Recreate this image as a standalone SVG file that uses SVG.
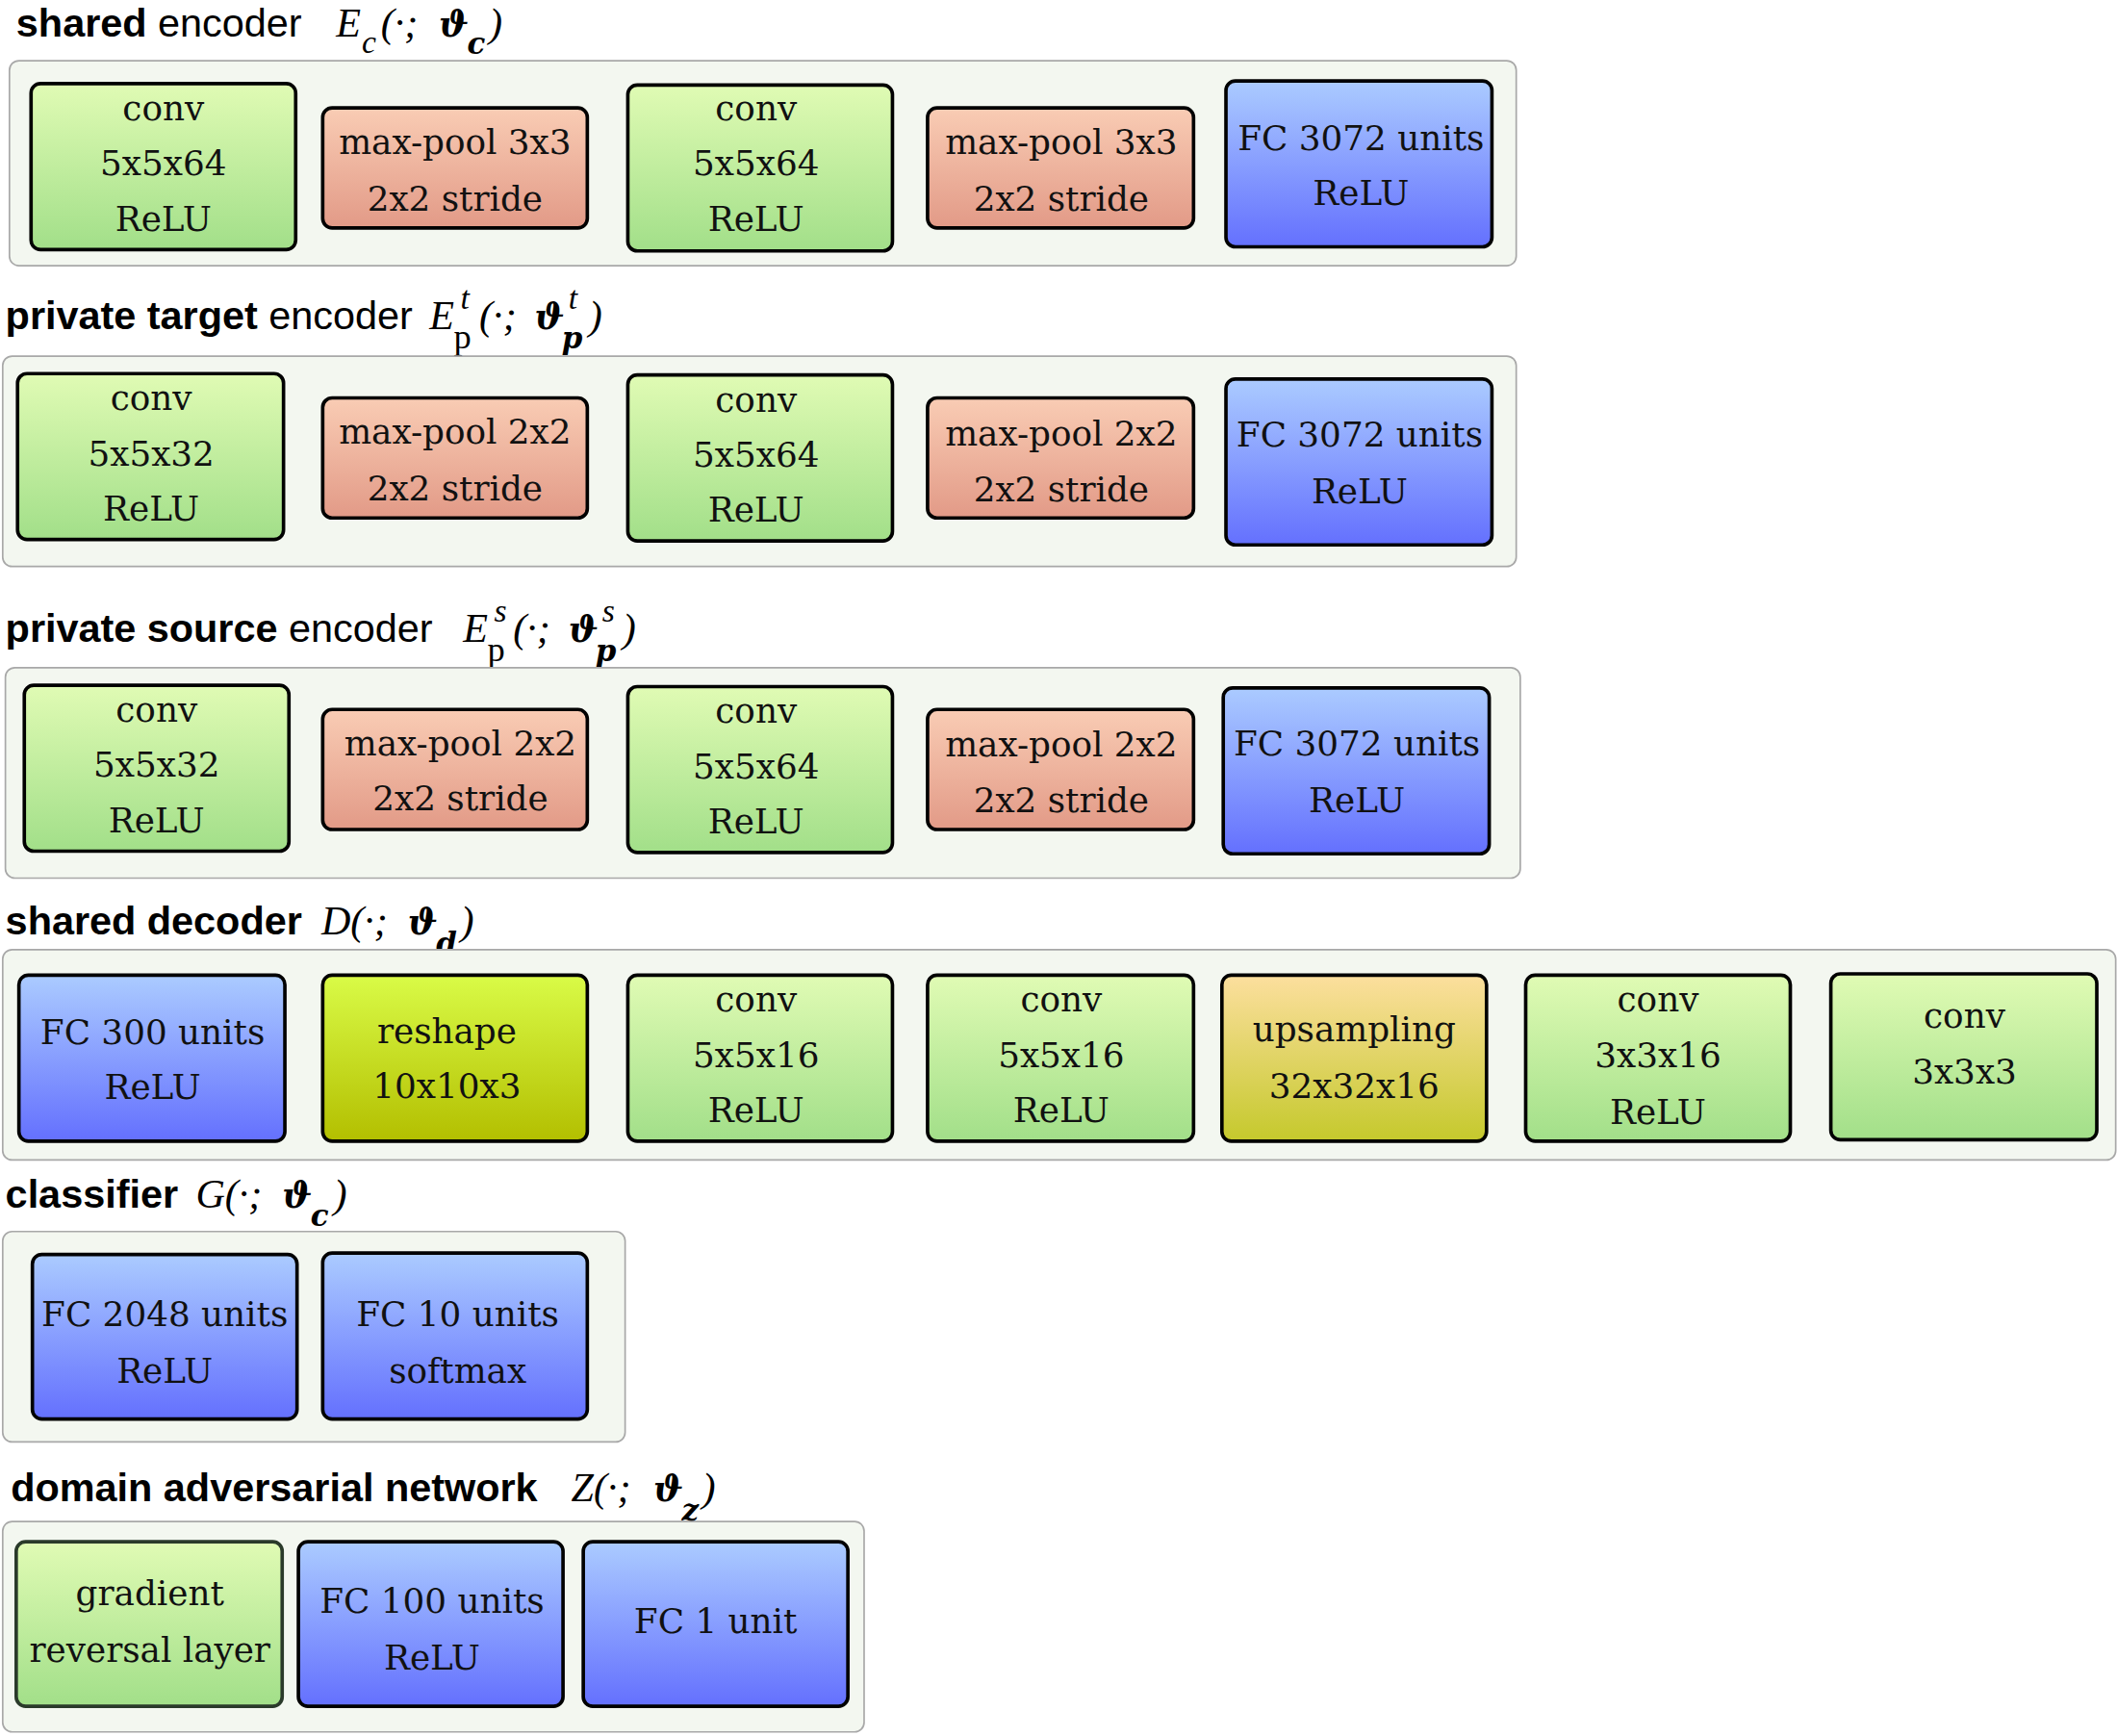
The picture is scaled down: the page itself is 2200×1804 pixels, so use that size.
<svg xmlns="http://www.w3.org/2000/svg" width="2200" height="1804" viewBox="0 0 2200 1804">
<defs>
<linearGradient id="gG" x1="0" y1="0" x2="0" y2="1"><stop offset="0" stop-color="#e0fbb4"/><stop offset="1" stop-color="#a2df89"/></linearGradient>
<linearGradient id="gR" x1="0" y1="0" x2="0" y2="1"><stop offset="0" stop-color="#f9ccb4"/><stop offset="1" stop-color="#e29a87"/></linearGradient>
<linearGradient id="gB" x1="0" y1="0" x2="0" y2="1"><stop offset="0" stop-color="#abcbff"/><stop offset="1" stop-color="#6470fe"/></linearGradient>
<linearGradient id="gY" x1="0" y1="0" x2="0" y2="1"><stop offset="0" stop-color="#d9fb47"/><stop offset="1" stop-color="#b3bf00"/></linearGradient>
<linearGradient id="gO" x1="0" y1="0" x2="0" y2="1"><stop offset="0" stop-color="#fcdf9e"/><stop offset="1" stop-color="#c5c92c"/></linearGradient>
</defs>
<style>
.ct{fill:#f3f7f0;stroke:#a8a8a8;stroke-width:1.2}
.b{stroke:#000;stroke-width:2.6}
.g{fill:url(#gG)}.r{fill:url(#gR)}.bl{fill:url(#gB)}.y{fill:url(#gY)}.o{fill:url(#gO)}
.t{font-family:"DejaVu Serif","Liberation Serif",serif;font-size:25.5px;text-anchor:middle;fill:#111}
.h{font-family:"Liberation Sans",Arial,sans-serif;font-size:29.5px;fill:#000}
.hb{font-weight:bold}
.m{font-family:"Liberation Serif",serif;font-style:italic;font-size:30px;fill:#000}
.u{font-family:"Liberation Serif",serif;font-size:26px;fill:#000}
.s{font-size:24px}
.mb{font-family:"DejaVu Serif",serif;font-style:italic;font-weight:bold;font-size:26px;fill:#000}
.sb{font-family:"DejaVu Serif",serif;font-style:italic;font-weight:bold;font-size:22px;fill:#000}
</style>
<g transform="scale(1.4031,1.4017)">
<g id="shared-encoder">
<text class="h" x="12" y="27"><tspan class="hb">shared</tspan> encoder</text>
<text class="m" x="249" y="27">E</text><text class="m s" x="268" y="39">c</text><text class="m" x="282" y="27">(·;</text><text class="mb" x="325" y="27">ϑ</text><text class="sb" x="346" y="40">c</text><text class="m" x="362" y="27">)</text>
<rect class="ct" x="7" y="45" width="1116" height="152" rx="7"/>
</g>
<g id="se1"><rect class="b g" x="23" y="62" width="196" height="123" rx="7"/><text class="t" x="121" y="89">conv</text><text class="t" x="121" y="130">5x5x64</text><text class="t" x="121" y="171">ReLU</text></g>
<g id="se2"><rect class="b r" x="239" y="80" width="196" height="89" rx="7"/><text class="t" x="337" y="114">max-pool 3x3</text><text class="t" x="337" y="156">2x2 stride</text></g>
<g id="se3"><rect class="b g" x="465" y="63" width="196" height="123" rx="7"/><text class="t" x="560" y="89">conv</text><text class="t" x="560" y="130">5x5x64</text><text class="t" x="560" y="171">ReLU</text></g>
<g id="se4"><rect class="b r" x="687" y="80" width="197" height="89" rx="7"/><text class="t" x="786" y="114">max-pool 3x3</text><text class="t" x="786" y="156">2x2 stride</text></g>
<g id="se5"><rect class="b bl" x="908" y="60" width="197" height="123" rx="7"/><text class="t" x="1008" y="111">FC 3072 units</text><text class="t" x="1008" y="152">ReLU</text></g>

<g id="private-target-encoder">
<text class="h" x="4" y="244"><tspan class="hb">private target</tspan> encoder</text>
<text class="m" x="318" y="244">E</text><text class="u" x="336" y="258">p</text><text class="m s" x="341" y="229">t</text><text class="m" x="355" y="244">(·;</text><text class="mb" x="396" y="244">ϑ</text><text class="sb" x="416" y="258">p</text><text class="m s" x="421" y="229">t</text><text class="m" x="436" y="244">)</text>
<rect class="ct" x="2" y="264" width="1121" height="156" rx="7"/>
</g>
<g id="pt1"><rect class="b g" x="13" y="277" width="197" height="123" rx="7"/><text class="t" x="112" y="304">conv</text><text class="t" x="112" y="345">5x5x32</text><text class="t" x="112" y="386">ReLU</text></g>
<g id="pt2"><rect class="b r" x="239" y="295" width="196" height="89" rx="7"/><text class="t" x="337" y="329">max-pool 2x2</text><text class="t" x="337" y="371">2x2 stride</text></g>
<g id="pt3"><rect class="b g" x="465" y="278" width="196" height="123" rx="7"/><text class="t" x="560" y="305">conv</text><text class="t" x="560" y="346">5x5x64</text><text class="t" x="560" y="387">ReLU</text></g>
<g id="pt4"><rect class="b r" x="687" y="295" width="197" height="89" rx="7"/><text class="t" x="786" y="330">max-pool 2x2</text><text class="t" x="786" y="372">2x2 stride</text></g>
<g id="pt5"><rect class="b bl" x="908" y="281" width="197" height="123" rx="7"/><text class="t" x="1007" y="331">FC 3072 units</text><text class="t" x="1007" y="373">ReLU</text></g>

<g id="private-source-encoder">
<text class="h" x="4" y="476"><tspan class="hb">private source</tspan> encoder</text>
<text class="m" x="343" y="476">E</text><text class="u" x="361" y="490">p</text><text class="m s" x="366" y="461">s</text><text class="m" x="380" y="476">(·;</text><text class="mb" x="421" y="476">ϑ</text><text class="sb" x="441" y="490">p</text><text class="m s" x="446" y="461">s</text><text class="m" x="461" y="476">)</text>
<rect class="ct" x="4" y="495" width="1122" height="156" rx="7"/>
</g>
<g id="ps1"><rect class="b g" x="18" y="508" width="196" height="123" rx="7"/><text class="t" x="116" y="535">conv</text><text class="t" x="116" y="576">5x5x32</text><text class="t" x="116" y="617">ReLU</text></g>
<g id="ps2"><rect class="b r" x="239" y="526" width="196" height="89" rx="7"/><text class="t" x="341" y="560">max-pool 2x2</text><text class="t" x="341" y="601">2x2 stride</text></g>
<g id="ps3"><rect class="b g" x="465" y="509" width="196" height="123" rx="7"/><text class="t" x="560" y="536">conv</text><text class="t" x="560" y="577">5x5x64</text><text class="t" x="560" y="618">ReLU</text></g>
<g id="ps4"><rect class="b r" x="687" y="526" width="197" height="89" rx="7"/><text class="t" x="786" y="561">max-pool 2x2</text><text class="t" x="786" y="602">2x2 stride</text></g>
<g id="ps5"><rect class="b bl" x="906" y="510" width="197" height="123" rx="7"/><text class="t" x="1005" y="560">FC 3072 units</text><text class="t" x="1005" y="602">ReLU</text></g>

<g id="shared-decoder">
<text class="h hb" x="4" y="693">shared decoder</text>
<text class="m" x="238" y="693">D(·;</text><text class="mb" x="302" y="693">ϑ</text><text class="sb" x="323" y="707">d</text><text class="m" x="341" y="693">)</text>
<rect class="ct" x="2" y="704" width="1565" height="156" rx="7"/>
</g>
<g id="sd1"><rect class="b bl" x="14" y="723" width="197" height="123" rx="7"/><text class="t" x="113" y="774">FC 300 units</text><text class="t" x="113" y="815">ReLU</text></g>
<g id="sd2"><rect class="b y" x="239" y="723" width="196" height="123" rx="7"/><text class="t" x="331" y="773">reshape</text><text class="t" x="331" y="814">10x10x3</text></g>
<g id="sd3"><rect class="b g" x="465" y="723" width="196" height="123" rx="7"/><text class="t" x="560" y="750">conv</text><text class="t" x="560" y="791">5x5x16</text><text class="t" x="560" y="832">ReLU</text></g>
<g id="sd4"><rect class="b g" x="687" y="723" width="197" height="123" rx="7"/><text class="t" x="786" y="750">conv</text><text class="t" x="786" y="791">5x5x16</text><text class="t" x="786" y="832">ReLU</text></g>
<g id="sd5"><rect class="b o" x="905" y="723" width="196" height="123" rx="7"/><text class="t" x="1003" y="772">upsampling</text><text class="t" x="1003" y="814">32x32x16</text></g>
<g id="sd6"><rect class="b g" x="1130" y="723" width="196" height="123" rx="7"/><text class="t" x="1228" y="750">conv</text><text class="t" x="1228" y="791">3x3x16</text><text class="t" x="1228" y="833">ReLU</text></g>
<g id="sd7"><rect class="b g" x="1356" y="722" width="197" height="123" rx="7"/><text class="t" x="1455" y="762">conv</text><text class="t" x="1455" y="803">3x3x3</text></g>

<g id="classifier">
<text class="h hb" x="4" y="895">classifier</text>
<text class="m" x="145" y="895">G(·;</text><text class="mb" x="209" y="895">ϑ</text><text class="sb" x="230" y="909">c</text><text class="m" x="247" y="895">)</text>
<rect class="ct" x="2" y="913" width="461" height="156" rx="7"/>
</g>
<g id="c1"><rect class="b bl" x="24" y="930" width="196" height="122" rx="7"/><text class="t" x="122" y="983">FC 2048 units</text><text class="t" x="122" y="1025">ReLU</text></g>
<g id="c2"><rect class="b bl" x="239" y="929" width="196" height="123" rx="7"/><text class="t" x="339" y="983">FC 10 units</text><text class="t" x="339" y="1025">softmax</text></g>

<g id="domain-adversarial-network">
<text class="h hb" x="8" y="1113">domain adversarial network</text>
<text class="m" x="423" y="1113">Z(·;</text><text class="mb" x="484" y="1113">ϑ</text><text class="sb" x="505" y="1127">z</text><text class="m" x="520" y="1113">)</text>
<rect class="ct" x="2" y="1128" width="638" height="156" rx="7"/>
</g>
<g id="d1"><rect class="g" stroke="#2a3a2a" stroke-width="2.6" x="12" y="1143" width="197" height="122" rx="7"/><text class="t" x="111" y="1190">gradient</text><text class="t" x="111" y="1232">reversal layer</text></g>
<g id="d2"><rect class="b bl" x="221" y="1143" width="196" height="122" rx="7"/><text class="t" x="320" y="1196">FC 100 units</text><text class="t" x="320" y="1238">ReLU</text></g>
<g id="d3"><rect class="b bl" x="432" y="1143" width="196" height="122" rx="7"/><text class="t" x="530" y="1211">FC 1 unit</text></g>
<g id="connectors"/>
</g>
</svg>
